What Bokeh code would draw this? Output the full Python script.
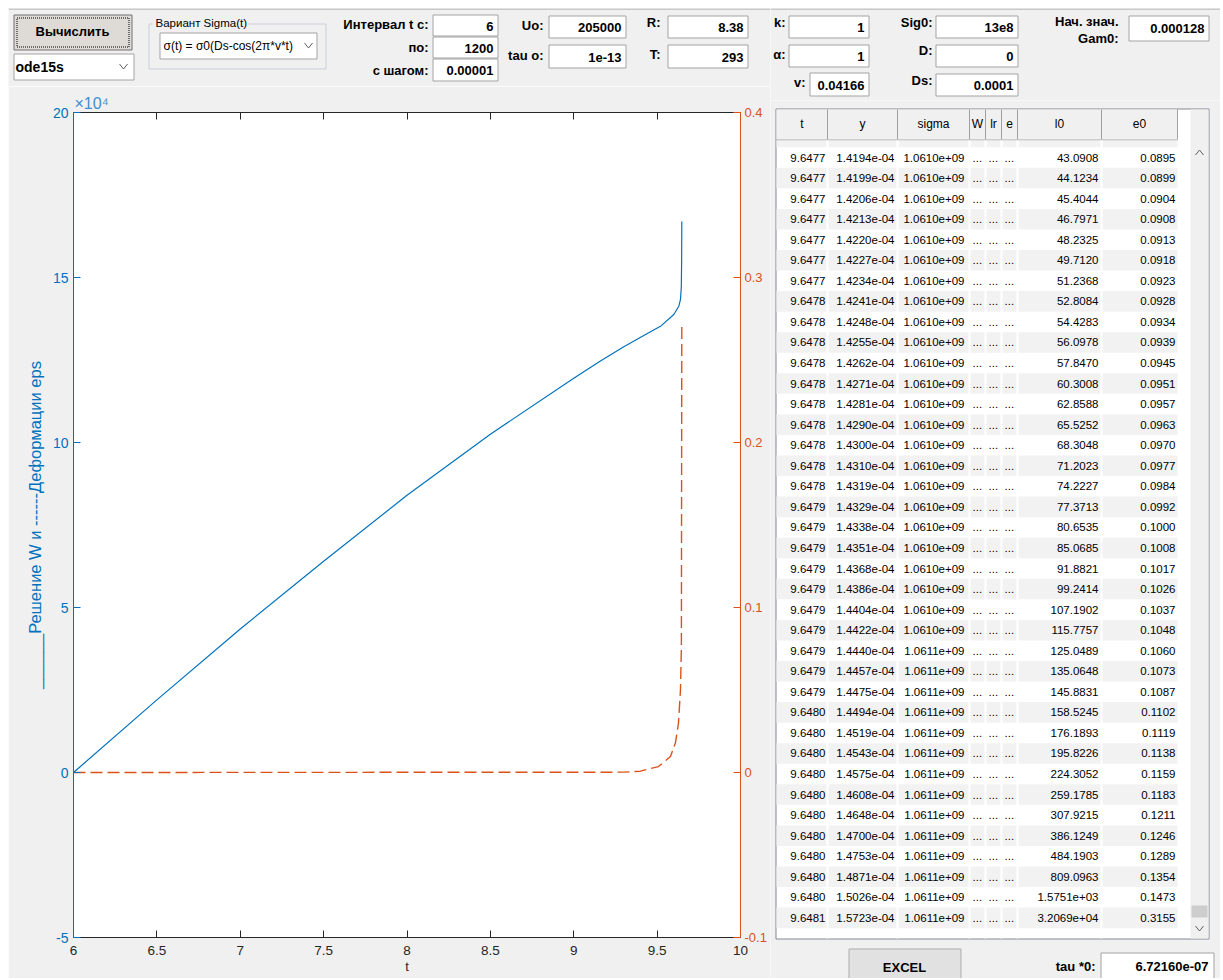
from bokeh.plotting import figure
from bokeh.models import Range1d, LinearAxis, FixedTicker, Spacer
from bokeh.layouts import row, column
from bokeh.core.properties import value
from bokeh.embed import file_html
from bokeh.resources import INLINE

FONT = "Liberation Sans"
BG = "#f0f0f0"
BLUE = "#0072BD"
ORANGE = "#D95319"
DARK = "#262626"

# ------------------------------------------------------------------ data
# W(t) solution (left axis, real units) and eps(t) deformation (right axis)
t_W = [6.0, 6.5, 7.0, 7.5, 8.0, 8.5, 9.0, 9.16, 9.3, 9.42, 9.52, 9.6, 9.63, 9.64, 9.645, 9.647, 9.648]
W = [0, 22000, 43500, 64000, 84000, 102500, 119500, 124700, 129000, 132400, 135200,
     138800, 141300, 143300, 147000, 155000, 167000]
t_eps = [6.0, 9.3, 9.40, 9.508, 9.58, 9.61, 9.628, 9.64, 9.6455, 9.648]
eps = [0.0, 0.0002, 0.0008, 0.0036, 0.0097, 0.018, 0.030, 0.050, 0.076, 0.273]

x_ticks = [6, 6.5, 7, 7.5, 8, 8.5, 9, 9.5, 10]
x_tick_labels = ["6", "6.5", "7", "7.5", "8", "8.5", "9", "9.5", "10"]
w_ticks = [-50000, 0, 50000, 100000, 150000, 200000]
w_tick_labels = ["-5", "0", "5", "10", "15", "20"]
eps_ticks = [-0.1, 0, 0.1, 0.2, 0.3, 0.4]
eps_tick_labels = ["-0.1", "0", "0.1", "0.2", "0.3", "0.4"]
y_axis_title = "______Решение W и ------Деформации eps"
x_axis_title = "t"
y_exponent = "×10⁴"

# GUI texts
calc_button = "Вычислить"
solver_name = "ode15s"
sigma_group_title = "Вариант Sigma(t)"
sigma_variant = "σ(t) = σ0(Ds-cos(2π*v*t)"
param_labels = ["Интервал t c:", "по:", "с шагом:", "Uo:", "tau o:", "R:", "T:",
                "k:", "α:", "v:", "Sig0:", "D:", "Ds:"]
param_values = ["6", "1200", "0.00001", "205000", "1e-13", "8.38", "293",
                "1", "1", "0.04166", "13e8", "0", "0.0001"]
gam0_label = ["Нач. знач.", "Gam0:"]
gam0_value = "0.000128"
excel_button = "EXCEL"
tau_label = "tau *0:"
tau_value = "6.72160e-07"

# table
table_headers = ["t", "y", "sigma", "W", "lr", "e", "l0", "e0"]
t_col = ["9.6477", "9.6477", "9.6477", "9.6477", "9.6477", "9.6477", "9.6477",
         "9.6478", "9.6478", "9.6478", "9.6478", "9.6478", "9.6478", "9.6478", "9.6478", "9.6478", "9.6478",
         "9.6479", "9.6479", "9.6479", "9.6479", "9.6479", "9.6479", "9.6479", "9.6479", "9.6479", "9.6479",
         "9.6480", "9.6480", "9.6480", "9.6480", "9.6480", "9.6480", "9.6480", "9.6480", "9.6480", "9.6480",
         "9.6481"]
y_col = ["1.4194e-04", "1.4199e-04", "1.4206e-04", "1.4213e-04", "1.4220e-04", "1.4227e-04", "1.4234e-04",
         "1.4241e-04", "1.4248e-04", "1.4255e-04", "1.4262e-04", "1.4271e-04", "1.4281e-04", "1.4290e-04",
         "1.4300e-04", "1.4310e-04", "1.4319e-04", "1.4329e-04", "1.4338e-04", "1.4351e-04", "1.4368e-04",
         "1.4386e-04", "1.4404e-04", "1.4422e-04", "1.4440e-04", "1.4457e-04", "1.4475e-04", "1.4494e-04",
         "1.4519e-04", "1.4543e-04", "1.4575e-04", "1.4608e-04", "1.4648e-04", "1.4700e-04", "1.4753e-04",
         "1.4871e-04", "1.5026e-04", "1.5723e-04"]
sigma_col = ["1.0610e+09"] * 24 + ["1.0611e+09"] * 14
hidden_col = ["..."] * 38
l0_col = ["43.0908", "44.1234", "45.4044", "46.7971", "48.2325", "49.7120", "51.2368", "52.8084",
          "54.4283", "56.0978", "57.8470", "60.3008", "62.8588", "65.5252", "68.3048", "71.2023",
          "74.2227", "77.3713", "80.6535", "85.0685", "91.8821", "99.2414", "107.1902", "115.7757",
          "125.0489", "135.0648", "145.8831", "158.5245", "176.1893", "195.8226", "224.3052",
          "259.1785", "307.9215", "386.1249", "484.1903", "809.0963", "1.5751e+03", "3.2069e+04"]
e0_col = ["0.0895", "0.0899", "0.0904", "0.0908", "0.0913", "0.0918", "0.0923", "0.0928", "0.0934",
          "0.0939", "0.0945", "0.0951", "0.0957", "0.0963", "0.0970", "0.0977", "0.0984", "0.0992",
          "0.1000", "0.1008", "0.1017", "0.1026", "0.1037", "0.1048", "0.1060", "0.1073", "0.1087",
          "0.1102", "0.1119", "0.1138", "0.1159", "0.1183", "0.1211", "0.1246", "0.1289", "0.1354",
          "0.1473", "0.3155"]

# ------------------------------------------------------------------ layout (pixel geometry)
param_layout = [
    (428, 24, (432, 497, 14, 35)),
    (428, 47, (432, 497, 36, 57)),
    (428, 70, (432, 497, 58, 80)),
    (543, 25, (548, 625, 15, 37)),
    (543, 55, (548, 625, 44, 67)),
    (660, 22, (667, 747, 15, 37)),
    (660, 54, (667, 747, 44, 67)),
    (785, 22, (788, 868, 15, 37)),
    (785, 54, (788, 868, 44, 66)),
    (805, 82, (809, 868, 72, 95)),
    (932, 22, (935, 1017, 15, 37)),
    (932, 50, (935, 1017, 44, 66)),
    (932, 80, (935, 1017, 73, 95)),
]
col_bounds = [776, 827, 897, 969, 985, 1001, 1017, 1101, 1177]
col_text = [(825, "right"), (894, "right"), (964, "right"), (972, "left"),
            (988, "left"), (1004, "left"), (1098, "right"), (1175, "right")]
ROW0, ROWH = 157, 20.55


def canvas(x0, x1, y0, y1):
    p = figure(width=x1 - x0, height=y1 - y0, x_range=Range1d(x0, x1), y_range=Range1d(y1, y0),
               output_backend="svg", toolbar_location=None, tools="",
               x_axis_type=None, y_axis_type=None, min_border=0,
               background_fill_color=BG, border_fill_color=BG, outline_line_color=None)
    return p


def box(p, x0, x1, y0, y1, fill="white", line="#a3a3a3", dash="solid", width=1):
    p.quad(left=x0 + 0.5, right=x1 + 0.5, top=y0 + 0.5, bottom=y1 + 0.5, fill_color=fill,
           line_color=line, line_width=width, line_dash=dash)


def txt(p, xs, ys, ss, size="13px", bold=False, align="left", color="black", baseline="middle"):
    p.text(x=xs, y=ys, text=ss, text_font=value(FONT), text_font_size=size,
           text_font_style="bold" if bold else "normal", text_align=align,
           text_baseline=baseline, text_color=color)


def chevron(p, x, y, down=True, color="#606060"):
    d = 2.5 if down else -2.5
    p.line(x=[x - 4, x, x + 4], y=[y - d, y + d, y - d], line_color=color, line_width=1)


def params(p, lo, hi):
    for lab, val, (lx, ly, (bx0, bx1, by0, by1)) in zip(param_labels, param_values, param_layout):
        if lo <= bx0 < hi:
            box(p, bx0, bx1, by0, by1)
            txt(p, [lx], [ly], [lab], bold=True, align="right")
            txt(p, [bx1 - 4], [(by0 + by1) / 2 + 1], [val], bold=True, align="right")


# ------------------------------------------------------------------ top-left GUI
topL = canvas(8, 770, 8, 86)
topL.line(x=[8, 770], y=[8.5, 8.5], line_color="#a0a0a0")
box(topL, 13, 131, 14, 49, fill="#dedad5", line="#707070")
box(topL, 16, 128, 17, 46, fill=None, line="black", dash="1 1")
txt(topL, [72], [31], [calc_button], bold=True, align="center")
box(topL, 13, 133, 53, 79)
txt(topL, [15], [66], [solver_name], size="14px", bold=True)
chevron(topL, 123, 66)
box(topL, 148, 325, 23, 68, fill=None, line="#c8d0d8")
topL.quad(left=152, right=248, top=16, bottom=30, fill_color=BG, line_color=None)
txt(topL, [155], [22], [sigma_group_title], size="11.5px")
box(topL, 159, 316, 32, 58)
txt(topL, [163], [45], [sigma_variant], size="12px")
chevron(topL, 308, 45)
params(topL, 0, 770)

# ------------------------------------------------------------------ top-right GUI
topR = canvas(770, 1220, 8, 100)
topR.line(x=[770, 1220], y=[8.5, 8.5], line_color="#a0a0a0")
params(topR, 770, 2000)
txt(topR, [1118, 1118], [21, 38], gam0_label, bold=True, align="right")
box(topR, 1128, 1208, 15, 40)
txt(topR, [1204], [28], [gam0_value], bold=True, align="right")

# ------------------------------------------------------------------ chart
chart = figure(width=762, height=892, x_range=Range1d(6, 10), y_range=Range1d(-50000, 200000),
               output_backend="svg", toolbar_location=None, tools="",
               min_border_left=65, min_border_right=30, min_border_top=26, min_border_bottom=41,
               background_fill_color="white", border_fill_color=BG, outline_line_color=None)
chart.extra_y_ranges = {"eps": Range1d(-0.1, 0.4)}
chart.xgrid.visible = False
chart.ygrid.visible = False
chart.title.text = y_exponent
chart.title.align = "left"
chart.title.text_font = FONT
chart.title.text_font_size = "16px"
chart.title.text_font_style = "normal"
chart.title.text_color = "#3f8fcf"
chart.title.offset = 1
chart.title.standoff = 1


def style_axis(ax, color, size="13.5px"):
    ax.major_tick_in = 7
    ax.major_tick_out = 0
    ax.minor_tick_line_color = None
    ax.axis_line_color = color
    ax.major_tick_line_color = color
    ax.major_label_text_color = color
    ax.major_label_text_font = FONT
    ax.major_label_text_font_size = size
    ax.major_label_standoff = 5


xa = chart.xaxis[0]
xa.ticker = FixedTicker(ticks=x_ticks)
xa.major_label_overrides = dict(zip(x_ticks, x_tick_labels))
style_axis(xa, DARK)
xa.major_label_standoff = 8
xa.axis_label = x_axis_title
xa.axis_label_text_font = FONT
xa.axis_label_text_font_size = "13px"
xa.axis_label_text_font_style = "normal"
xa.axis_label_text_color = DARK
xa.axis_label_standoff = 1

ya = chart.yaxis[0]
ya.ticker = FixedTicker(ticks=w_ticks)
ya.major_label_overrides = dict(zip(w_ticks, w_tick_labels))
style_axis(ya, BLUE, "14px")
ya.axis_label = y_axis_title
ya.axis_label_text_font = FONT
ya.axis_label_text_font_size = "16.5px"
ya.axis_label_text_font_style = "normal"
ya.axis_label_text_color = BLUE
ya.axis_label_standoff = 6

ra = LinearAxis(y_range_name="eps", ticker=FixedTicker(ticks=eps_ticks),
                major_label_overrides=dict(zip(eps_ticks, eps_tick_labels)))
style_axis(ra, ORANGE, "13px")
ra.major_label_standoff = 4
chart.add_layout(ra, "right")

ta = LinearAxis(ticker=FixedTicker(ticks=x_ticks),
                major_label_overrides={tk: "" for tk in x_ticks})
style_axis(ta, DARK, "1px")
ta.major_label_standoff = 0
chart.add_layout(ta, "above")

chart.line(t_W, W, line_color=BLUE, line_width=1.2)
chart.line(t_eps, eps, y_range_name="eps", line_color=ORANGE, line_width=1.4, line_dash="12 5")

# ------------------------------------------------------------------ table
tab = canvas(770, 1220, 100, 978)
box(tab, 775, 1208, 108, 938, fill="white", line="#828790")
tab.quad(left=1190, right=1208, top=109, bottom=938, fill_color=BG, line_color=None)
tab.quad(left=776, right=1177, top=109, bottom=139, fill_color=BG, line_color=None)
tab.segment(x0=col_bounds[1:], y0=[109] * 8, x1=col_bounds[1:], y1=[139] * 8,
            line_color="#a0a0a0", line_width=1)
tab.line(x=[776, 1177], y=[139.5, 139.5], line_color="#a0a0a0")
hx = [(a + b) / 2 for a, b in zip(col_bounds[:-1], col_bounds[1:])]
txt(tab, hx, [123] * 8, table_headers, size="12px", align="center")

row_y = [ROW0 + i * ROWH for i in range(len(t_col))]
tab.quad(left=776, right=1177, top=140, bottom=ROW0 - ROWH / 2, fill_color="#f2f2f2", line_color=None)
gy = [y for i, y in enumerate(row_y) if i % 2 == 1]
tab.quad(left=[776] * len(gy), right=[1177] * len(gy), top=[y - ROWH / 2 for y in gy],
         bottom=[y + ROWH / 2 for y in gy], fill_color="#f2f2f2", line_color=None)
tab.segment(x0=col_bounds[1:-1], y0=[140] * 7, x1=col_bounds[1:-1], y1=[938] * 7,
            line_color="white", line_width=2)
for vals, (cx, al) in zip([t_col, y_col, sigma_col, hidden_col, hidden_col, hidden_col, l0_col, e0_col],
                          col_text):
    txt(tab, [cx] * len(vals), row_y, vals, size="11.5px", align=al)

tab.quad(left=1191, right=1207, top=905, bottom=917, fill_color="#cdcdcd", line_color=None)
chevron(tab, 1199, 152, down=False)
chevron(tab, 1199, 928, down=True)

box(tab, 848, 960, 948, 990, fill="#e1e1e1", line="#adadad")
txt(tab, [904], [967], [excel_button], bold=True, align="center")
txt(tab, [1095], [966], [tau_label], bold=True, align="right")
box(tab, 1100, 1213, 952, 979)
txt(tab, [1208], [966], [tau_value], bold=True, align="right")

left_col = column(row(topL), row(chart))
right_col = column(row(topR), row(tab))
layout = column(Spacer(height=8), row(Spacer(width=8), left_col, right_col))
open("out.html", "w").write(file_html(layout, INLINE))
